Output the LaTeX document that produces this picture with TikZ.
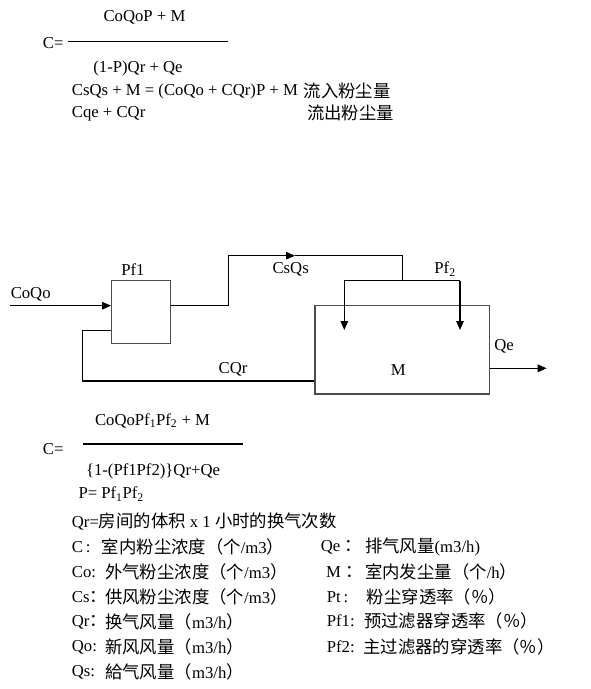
\documentclass[tikz,border=0pt]{standalone}
\usepackage{fontspec}
\setmainfont{Liberation Serif}
\newfontfamily\cjk[Scale=1.04]{Noto Sans CJK SC}
\usepackage{xcolor}
\usetikzlibrary{arrows.meta,positioning,calc}

\begin{document}
\begin{tikzpicture}[x=1pt, y=-1pt,
  txt/.style={font=\fontsize{16.7}{20}\selectfont, inner sep=0pt},
  lbl/.style={txt, anchor=west},
  box/.style={draw=black!70, line width=1.3pt, inner sep=0pt},
  line/.style={line width=1.3pt},
  arrow/.style={line width=1.3pt, -{Triangle[length=9pt, width=7.5pt]}}
]
  \useasboundingbox (0,0) rectangle (591,689);

  % First formula
  \node[txt] (numa) at (144.5,17.3) {CoQoP + M};
  \node[lbl] (ceqa) at (42.7,42.7) {C=};
  \draw[line] (68,41.7) -- (228,41.7);
  \node[txt] (dena) at (138,68.3) {(1-P)Qr + Qe};
  \node[lbl] (inflow) at (71.7,91) {CsQs + M = (CoQo + CQr)P + M};
  \node[lbl] (inflowzh) at (303.5,91) {\cjk 流入粉尘量};
  \node[lbl] (outflow) at (71.7,114) {Cqe + CQr};
  \node[lbl] (outflowzh) at (307,113) {\cjk 流出粉尘量};

  % Diagram nodes
  \node[box, minimum width=59pt, minimum height=62.6pt] (pfone) at (141.2,312) {};
  \node[box, minimum width=174.3pt, minimum height=88.3pt] (room) at (402.2,349.85) {};
  \node[txt] (pfonelbl) at (133,269.3) {Pf1};
  \node[txt] (csqs) at (290.7,269.3) {CsQs};
  \node[txt] (pftwolbl) at (445,269.3) {Pf\textsubscript{2}};
  \node[txt] (coqo) at (30.7,294.3) {CoQo};
  \node[txt] (cqr) at (233,369.3) {CQr};
  \node[txt] (mlbl) at (398.3,370) {M};
  \node[txt] (qe) at (504,346.7) {Qe};

  % Coordinates
  \coordinate (in) at (10,305.7);
  \coordinate (up) at (228.3,305.7);
  \coordinate (mid) at (295,255.7);
  \coordinate (top) at (402.7,255.7);
  \coordinate (split) at (402.7,280.7);
  \coordinate (sl) at (344.3,280.7);
  \coordinate (sr) at (460,280.7);
  \coordinate (ret) at (82.7,381);
  \coordinate (out) at (546.7,368.3);

  % Arrows
  \draw[arrow] (in) -- (in -| pfone.west);
  \draw[line] (pfone.east |- in) -- (up);
  \draw[arrow] (up) |- (mid);
  \draw[line] (mid) -- (top) -- (split);
  \draw[line] (sl) -- (sr);
  \draw[arrow] (sl) -- ++(0,49.3);
  \draw[arrow] (sr) -- ++(0,49.3);
  \draw[arrow] (room.east |- out) -- (out);
  \draw[line] (room.west |- ret) -- (ret) |- (pfone.west |- 0,330.7);

  % Second formula
  \node[txt] (numb) at (152.5,420.7) {CoQoPf\textsubscript{1}Pf\textsubscript{2} + M};
  \node[lbl] (ceqb) at (42.7,449) {C=};
  \draw[line] (83.3,444) -- (242.7,444);
  \node[txt] (denb) at (153,471.7) {\{1-(Pf1Pf2)\}Qr+Qe};
  \node[lbl] (peq) at (78.3,494) {P= Pf\textsubscript{1}Pf\textsubscript{2}};
  \node[lbl] (qrdef) at (71.7,521.5) {Qr={\cjk 房间的体积} x 1 {\cjk 小时的换气次数}};

  % Legend, left column
  \node[lbl] (kc) at (71.7,547) {C\,:};
  \node[lbl] (dc) at (101.7,547) {{\cjk 室内粉尘浓度（个}/m3{\cjk ）}};
  \node[lbl] (kco) at (71.7,572) {Co:};
  \node[lbl] (dco) at (105,572) {{\cjk 外气粉尘浓度（个}/m3{\cjk ）}};
  \node[lbl] (kcs) at (71.7,597) {Cs{\cjk ：}};
  \node[lbl] (dcs) at (105,597) {{\cjk 供风粉尘浓度（个}/m3{\cjk ）}};
  \node[lbl] (kqr) at (71.7,622) {Qr{\cjk ：}};
  \node[lbl] (dqr) at (105,622) {{\cjk 换气风量（}m3/h{\cjk ）}};
  \node[lbl] (kqo) at (71.7,647) {Qo:};
  \node[lbl] (dqo) at (105,647) {{\cjk 新风风量（}m3/h{\cjk ）}};
  \node[lbl] (kqs) at (71.7,672) {Qs:};
  \node[lbl] (dqs) at (105,672) {{\cjk 給气风量（}m3/h{\cjk ）}};

  % Legend, right column
  \node[lbl] (kqe) at (320.7,547) {Qe {\cjk ：}};
  \node[lbl] (dqe) at (365,547) {{\cjk 排气风量}(m3/h)};
  \node[lbl] (km) at (326,572) {M {\cjk ：}};
  \node[lbl] (dm) at (365,572) {{\cjk 室内发尘量（个}/h{\cjk ）}};
  \node[lbl] (kpt) at (326.7,597) {Pt\,:};
  \node[lbl] (dpt) at (366.7,597) {\cjk 粉尘穿透率（％）};
  \node[lbl] (kpfa) at (326.7,621) {Pf1:};
  \node[lbl] (dpfa) at (364,621) {\cjk 预过滤器穿透率（％）};
  \node[lbl] (kpfb) at (326.7,647) {Pf2:};
  \node[lbl] (dpfb) at (363.3,647) {\cjk 主过滤器的穿透率（％）};
\end{tikzpicture}
\end{document}
